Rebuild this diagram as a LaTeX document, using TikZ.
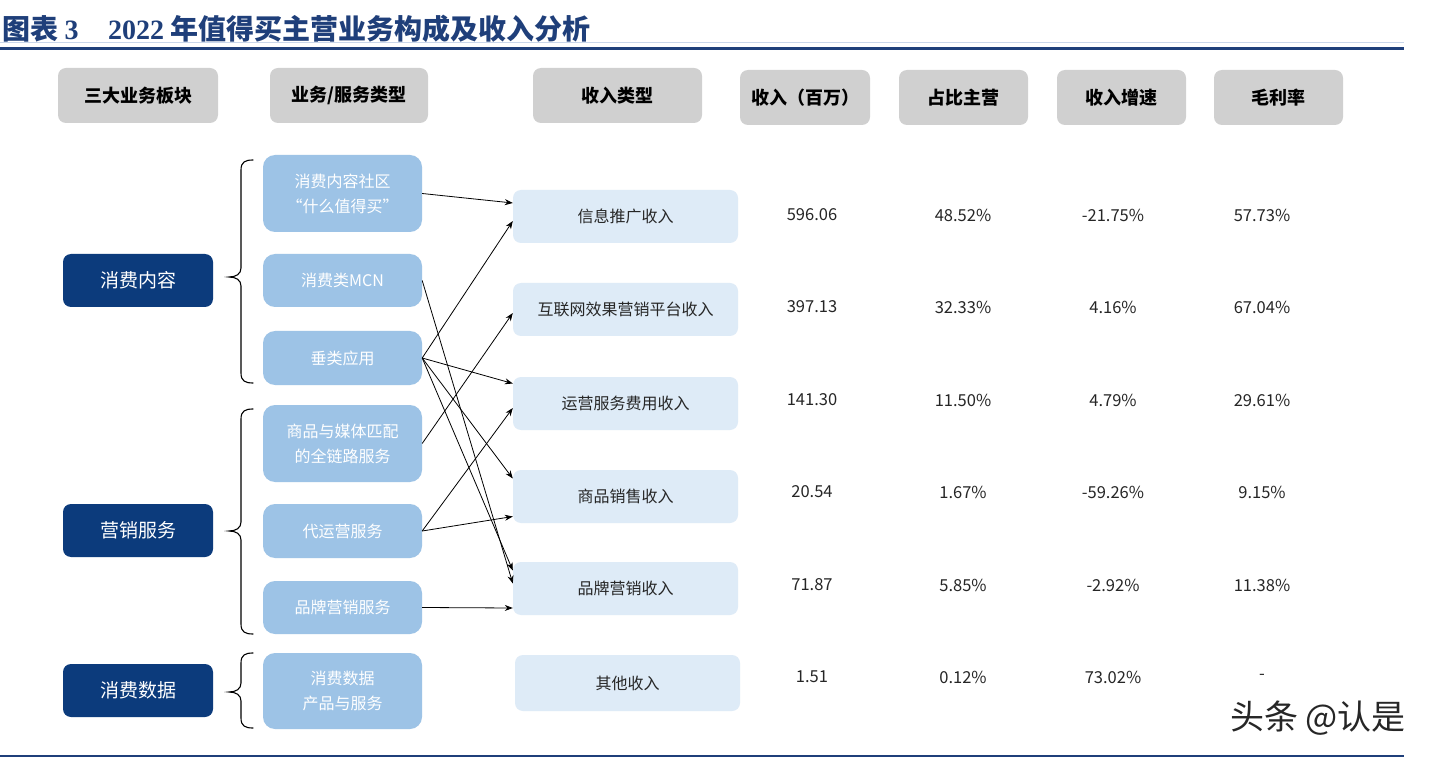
\documentclass[tikz,border=0pt]{standalone}
\usepackage{fontspec}
\setmainfont{Noto Sans CJK SC}
\newfontfamily\serifnum{Liberation Serif}
\usetikzlibrary{arrows.meta}
\definecolor{navy}{HTML}{1F3F7A}
\definecolor{paleline}{HTML}{C9D6EA}
\definecolor{darkbox}{HTML}{0C3B7C}
\definecolor{midbox}{HTML}{9DC3E6}
\definecolor{lightbox}{HTML}{DEEBF7}
\definecolor{hdrgray}{HTML}{D0D0D0}
\definecolor{txtgray}{HTML}{262626}
\newcommand{\curlybrace}[3]{%
  \draw[bracestyle] (253,#1) .. controls (245,#1) and (241,#1+2) .. (241,#1+10)
    -- (241,#2-9) .. controls (241,#2-3) and (236,#2) .. (229,#2)
    .. controls (236,#2) and (241,#2+3) .. (241,#2+9)
    -- (241,#3-10) .. controls (241,#3-2) and (245,#3) .. (253,#3);}
\begin{document}
\begin{tikzpicture}[x=1pt,y=-1pt,
  hdr/.style={fill=hdrgray, rounded corners=8pt, inner sep=0pt, text=black,
    font=\fontsize{18}{20}\selectfont\bfseries},
  seg/.style={fill=darkbox, rounded corners=8pt, inner sep=0pt, text=white,
    minimum width=150pt, minimum height=53pt, font=\fontsize{19}{22}\selectfont},
  svc/.style={fill=midbox, rounded corners=12pt, inner sep=0pt, text=white,
    minimum width=159pt, align=center, font=\fontsize{16}{25}\selectfont},
  rev/.style={fill=lightbox, rounded corners=8pt, inner sep=0pt, text=txtgray,
    minimum width=225pt, minimum height=53pt, font=\fontsize{16}{20}\selectfont},
  val/.style={inner sep=0pt, text=txtgray, font=\fontsize{16.5}{20}\selectfont},
  arr/.style={draw=black, line width=0.8pt, -{Stealth[length=8pt,width=6pt]}},
  bracestyle/.style={draw=black, line width=1.1pt, line cap=round}
]
\useasboundingbox (0,0) rectangle (1430,759);
\fill[white] (0,0) rectangle (1430,759);

% title
\node[anchor=west, inner sep=0pt, text=navy, font=\fontsize{28}{30}\selectfont\bfseries] (t1) at (2,29) {图表 {\serifnum 3}};
\node[anchor=west, inner sep=0pt, text=navy, font=\fontsize{28}{30}\selectfont\bfseries] (t2) at (108,29) {{\serifnum 2022} 年值得买主营业务构成及收入分析};
\draw[paleline, line width=1pt] (0,43) -- (1404,43);
\draw[navy, line width=3.5pt] (0,48.5) -- (1404,48.5);
\draw[navy, line width=2.5pt] (0,756) -- (1404,756);

% headers
\node[hdr, minimum width=160pt, minimum height=55pt] (h1) at (138,95.5) {三大业务板块};
\node[hdr, minimum width=158pt, minimum height=55pt] (h2) at (349,95.5) {业务/服务类型};
\node[hdr, minimum width=169pt, minimum height=55pt] (h3) at (617.5,95.5) {收入类型};
\node[hdr, minimum width=130pt, minimum height=55pt] (h4) at (805,97.5) {收入（百万）};
\node[hdr, minimum width=129pt, minimum height=55pt] (h5) at (963.5,97.5) {占比主营};
\node[hdr, minimum width=129pt, minimum height=55pt] (h6) at (1121.5,97.5) {收入增速};
\node[hdr, minimum width=129pt, minimum height=55pt] (h7) at (1278.5,97.5) {毛利率};

% segments
\node[seg] (D1) at (138,280.5) {消费内容};
\node[seg] (D2) at (138,530.5) {营销服务};
\node[seg] (D3) at (138,690.5) {消费数据};

% braces
\curlybrace{160}{277}{383}
\curlybrace{409}{531}{634}
\curlybrace{653}{692}{728}

% services
\node[svc, minimum height=77pt] (A1) at (342.5,193.5) {消费内容社区\\“什么值得买”};
\node[svc, minimum height=53pt] (A2) at (342.5,280.5) {消费类MCN};
\node[svc, minimum height=54pt] (A3) at (342.5,358) {垂类应用};
\node[svc, minimum height=77pt] (A4) at (342.5,443.5) {商品与媒体匹配\\的全链路服务};
\node[svc, minimum height=54pt] (A5) at (342.5,531) {代运营服务};
\node[svc, minimum height=53pt] (A6) at (342.5,607.5) {品牌营销服务};
\node[svc, minimum height=76pt] (A7) at (342.5,691) {消费数据\\产品与服务};

% revenue types
\node[rev] (B1) at (625.5,216.5) {信息推广收入};
\node[rev] (B2) at (625.5,309.5) {互联网效果营销平台收入};
\node[rev] (B3) at (625.5,403.5) {运营服务费用收入};
\node[rev] (B4) at (625.5,496.5) {商品销售收入};
\node[rev] (B5) at (625.5,588.5) {品牌营销收入};
\node[rev, minimum height=56pt] (B6) at (627.5,683) {其他收入};

% arrows
\draw[arr] (A1.east) -- ([yshift=13.5pt]B1.west);
\draw[arr] (A3.east) -- ([yshift=-4.5pt]B1.west);
\draw[arr] (A3.east) -- ([yshift=20pt]B3.west);
\draw[arr] (A3.east) -- ([yshift=18pt]B4.west);
\draw[arr] (A3.east) -- ([yshift=18pt]B5.west);
\draw[arr] (A2.east) -- ([yshift=5pt]B5.west);
\draw[arr] (A4.east) -- ([yshift=-3.5pt]B2.west);
\draw[arr] (A5.east) -- ([yshift=-4.5pt]B3.west);
\draw[arr] (A5.east) -- ([yshift=-20pt]B4.west);
\draw[arr] (A6.east) -- ([yshift=-19.5pt]B5.west);

% values
\foreach \yy/\va/\vb/\vc/\vd [count=\i] in {
  215/596.06/48.52\%/-21.75\%/57.73\%,
  307/397.13/32.33\%/4.16\%/67.04\%,
  400/141.30/11.50\%/4.79\%/29.61\%,
  492/20.54/1.67\%/-59.26\%/9.15\%,
  585/71.87/5.85\%/-2.92\%/11.38\%,
  677/1.51/0.12\%/73.02\%/-}{
  \node[val] (v\i-1) at (812,\yy) {\va};
  \node[val] (v\i-2) at (963,\yy) {\vb};
  \node[val] (v\i-3) at (1113,\yy) {\vc};
  \node[val] (v\i-4) at (1262,\yy) {\vd};
}

% watermark
\node[anchor=east, inner sep=0pt, text=black!85, font=\fontsize{34}{36}\selectfont] (wm) at (1406,718) {头条 @认是};
\end{tikzpicture}
\end{document}
